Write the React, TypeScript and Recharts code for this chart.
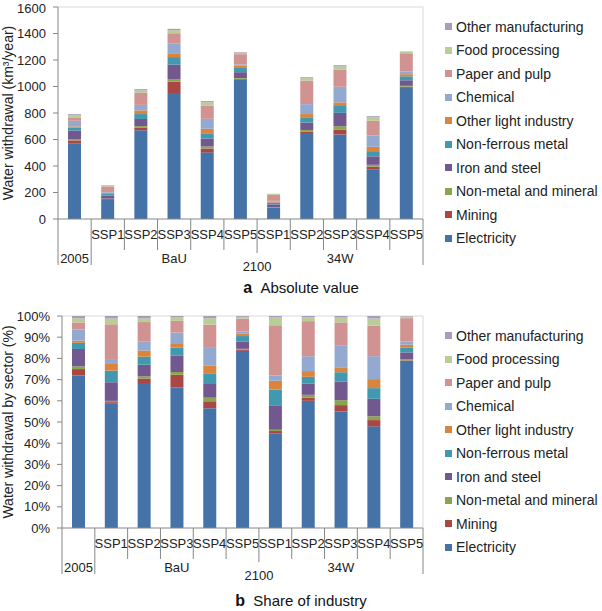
import React from 'react';
import { BarChart, Bar, XAxis, YAxis, Legend, CartesianGrid } from 'recharts';

const FONT = '"Liberation Sans", Arial, sans-serif';

// category tiers, innermost first
const scenarios = ['', 'SSP1', 'SSP2', 'SSP3', 'SSP4', 'SSP5', 'SSP1', 'SSP2', 'SSP3', 'SSP4', 'SSP5'];
const policies = ['2005', 'BaU', 'BaU', 'BaU', 'BaU', 'BaU', '34W', '34W', '34W', '34W', '34W'];
const periods = ['', '2100', '2100', '2100', '2100', '2100', '2100', '2100', '2100', '2100', '2100'];

// stack order, bottom to top
const sectors = [
  'Electricity', 'Mining', 'Non-metal and mineral', 'Iron and steel', 'Non-ferrous metal',
  'Other light industry', 'Chemical', 'Paper and pulp', 'Food processing', 'Other manufacturing',
];
const colors = [
  '#4572A7', '#AA4643', '#89A54E', '#71588F', '#4198AF',
  '#DB843D', '#93A9CF', '#D19392', '#B9CD96', '#A99BBD',
];

// water withdrawal, km3/year
const electricity = [569, 150, 670, 951, 503, 1052, 85, 642, 638, 372, 990];
const mining = [24, 2, 21, 86, 29, 6, 2, 16, 35, 23, 9];
const nonMetal = [10, 1.5, 10, 19, 15, 6, 1.1, 14, 27, 14, 6];
const ironSteel = [65, 22.5, 54, 110, 61, 44, 22, 56, 101, 64, 42];
const nonFerrous = [23, 14, 37, 56, 39, 32, 14, 35, 52, 39, 30];
const otherLight = [8, 9, 28, 29, 34, 16, 8, 29, 27, 33, 16];
const chemical = [42, 5, 41, 72, 75, 11, 4.8, 75, 118, 84, 19];
const paper = [26, 42, 91, 79, 98, 77, 45, 177, 128, 112, 139];
const food = [16, 7, 18, 23, 27, 10, 7, 19, 26, 26, 10];
const otherMfg = [8, 3, 10, 10, 9, 5, 1.3, 7, 9, 9, 3];

const sectorValues = [electricity, mining, nonMetal, ironSteel, nonFerrous, otherLight, chemical, paper, food, otherMfg];

const absTicks = [0, 200, 400, 600, 800, 1000, 1200, 1400, 1600];
const shareTicks = [0, 0.1, 0.2, 0.3, 0.4, 0.5, 0.6, 0.7, 0.8, 0.9, 1];

const data = scenarios.map((s, i) => {
  const row: Record<string, any> = { id: `${policies[i]} ${s}` };
  sectors.forEach((name, k) => { row[name] = sectorValues[k][i]; });
  return row;
});

const AXIS = '#868686';
const BORDER = '#d9d9d9';

function groupEnd(arr: string[], i: number) {
  let j = i;
  while (j + 1 < arr.length && arr[j + 1] === arr[i]) j++;
  return j;
}

function CategoryTick(props: any) {
  const { x, y, payload, band } = props;
  const i = props.index ?? payload.index;
  const n = scenarios.length;
  const half = band / 2;
  const txt = { fontFamily: FONT, fontSize: 13, fill: '#222', textAnchor: 'middle' as const };

  let len = 31;
  if (i === 0 || periods[i] !== periods[i - 1]) len = 46;
  else if (policies[i] !== policies[i - 1]) len = 34;

  const policyStart = i === 0 || policies[i] !== policies[i - 1];
  const periodStart = periods[i] && (i === 0 || periods[i] !== periods[i - 1]);

  return (
    <g>
      <line x1={x - half} x2={x - half} y1={y} y2={y + len} stroke={AXIS} />
      {i === n - 1 && <line x1={x + half} x2={x + half} y1={y} y2={y + 46} stroke={AXIS} />}
      {scenarios[i] && <text x={x} y={y + 20} {...txt}>{scenarios[i]}</text>}
      {policyStart && (
        <text x={x + (groupEnd(policies, i) - i) * half} y={y + 44} {...txt}>{policies[i]}</text>
      )}
      {periodStart && (
        <text x={x + (groupEnd(periods, i) - i) * half} y={y + 52} {...txt}>{periods[i]}</text>
      )}
    </g>
  );
}

const renderLegend = () => (
  <div style={{ width: 162, fontFamily: FONT, fontSize: 14, color: '#222' }}>
    {sectors.map((_, k) => k).reverse().map((k) => (
      <div key={k} style={{ height: 23.5, display: 'flex', alignItems: 'center', whiteSpace: 'nowrap' }}>
        <span style={{ width: 7, height: 7, background: colors[k], marginLeft: 5, marginRight: 4, flex: 'none' }} />
        <span>{sectors[k]}</span>
      </div>
    ))}
  </div>
);

function yLabel(text: string) {
  return (p: any) => {
    const vb = p.viewBox;
    const cy = vb.y + vb.height / 2;
    return (
      <text x={13} y={cy} transform={`rotate(-90, 13, ${cy})`} textAnchor="middle"
        fontFamily={FONT} fontSize={14} fill="#222">{text}</text>
    );
  };
}

const tickStyle = { fontFamily: FONT, fontSize: 13, fill: '#222' };

function Panel(props: { share: boolean; top: number; height: number; axisW: number; plotTop: number; bottom: number; legendTop: number }) {
  const { share, height, axisW, plotTop, bottom, legendTop } = props;
  const width = 602;
  const right = 179;
  const band = (width - axisW - right) / scenarios.length;
  return (
    <div style={{ position: 'absolute', left: 0, top: props.top }}>
      <BarChart width={width} height={height} data={data}
        margin={{ top: plotTop, right: right - 162, bottom: bottom - 60, left: 0 }}
        stackOffset={share ? 'expand' : 'none'} barSize={13}>
        <CartesianGrid stroke={BORDER}
          horizontalCoordinatesGenerator={({ offset }: any) => [offset.top]}
          verticalCoordinatesGenerator={({ offset }: any) => [offset.left + offset.width]} />
        <XAxis dataKey="id" interval={0} height={60} tickSize={0} tickMargin={0}
          axisLine={{ stroke: AXIS }} tickLine={false}
          tick={(p: any) => <CategoryTick {...p} band={band} />} />
        <YAxis width={axisW} domain={share ? [0, 1] : [0, 1600]} ticks={share ? shareTicks : absTicks}
          tickFormatter={(v: number) => (share ? `${Math.round(v * 100)}%` : `${v}`)}
          tick={tickStyle} tickSize={5} tickMargin={7}
          axisLine={{ stroke: AXIS }} tickLine={{ stroke: AXIS }}
          label={{ content: yLabel(share ? 'Water withdrawal by sector (%)' : 'Water withdrawal (km³/year)') }} />
        <Legend layout="vertical" align="right" verticalAlign="top" content={renderLegend}
          wrapperStyle={{ left: 440, top: legendTop, width: 162 }} />
        {sectors.map((name, k) => (
          <Bar key={name} dataKey={name} stackId="a" fill={colors[k]} isAnimationActive={false} />
        ))}
      </BarChart>
    </div>
  );
}

export default function App() {
  const title = { position: 'absolute' as const, left: 0, width: 602, textAlign: 'center' as const,
    fontFamily: FONT, fontSize: 15, lineHeight: '18px', color: '#111' };
  return (
    <div style={{ position: 'absolute', left: 0, top: 0, width: 602, height: 611, background: '#fff' }}>
      <Panel share={false} top={0} height={305} axisW={58} plotTop={7} bottom={86} legendTop={15} />
      <div style={{ ...title, top: 279 }}><b style={{ fontSize: 16 }}>a</b>&nbsp;&nbsp;Absolute value</div>
      <Panel share top={305} height={306} axisW={62} plotTop={11} bottom={83} legendTop={19} />
      <div style={{ ...title, top: 592 }}><b style={{ fontSize: 16 }}>b</b>&nbsp;&nbsp;Share of industry</div>
    </div>
  );
}
